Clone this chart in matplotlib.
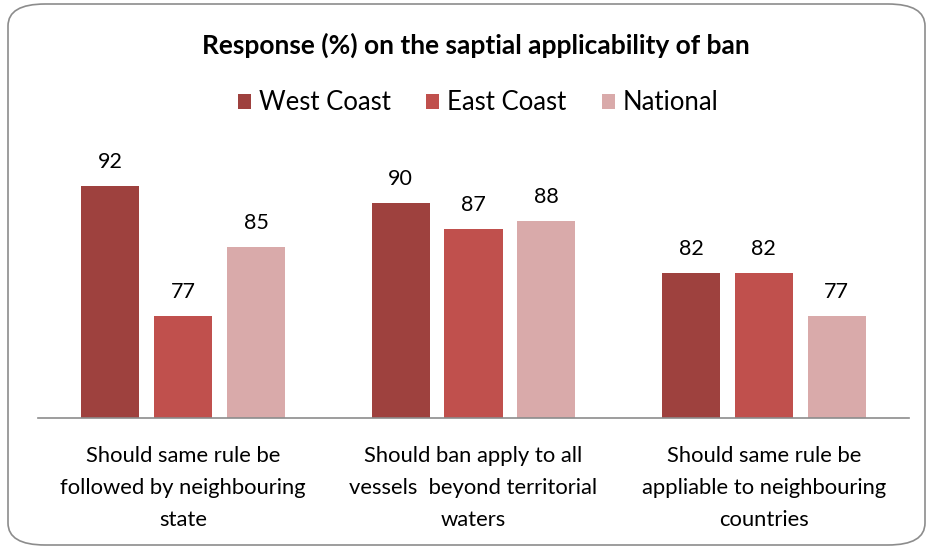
import numpy as np
import matplotlib.pyplot as plt
from matplotlib.patches import FancyBboxPatch

plt.rcParams['font.family'] = ['Lato', 'DejaVu Sans']

categories = [
    "Should same rule be\nfollowed by neighbouring\nstate",
    "Should ban apply to all\nvessels  beyond territorial\nwaters",
    "Should same rule be\nappliable to neighbouring\ncountries",
]
series_names = ["West Coast", "East Coast", "National"]
west = [92, 90, 82]
east = [77, 87, 82]
national = [85, 88, 77]
colors = ["#9E413E", "#C0504D", "#D9AAAA"]

fig = plt.figure(figsize=(9.27, 5.49), dpi=100)

# rounded chart border
border = FancyBboxPatch((8 / 927, 4 / 549), 917 / 927, 541 / 549,
                        boxstyle="round,pad=0,rounding_size=0.04",
                        transform=fig.transFigure, fill=False,
                        edgecolor="#8C8C8C", linewidth=1.2)
fig.patches.append(border)

ax = fig.add_axes([38 / 927, 1 - 418 / 549, 871 / 927, 278 / 549])
x = np.arange(len(categories))
width = 0.2
step = 0.251
for i, (name, vals) in enumerate(zip(series_names, [west, east, national])):
    bars = ax.bar(x + (i - 1) * step, vals, width, color=colors[i], label=name)
    for b, v in zip(bars, vals):
        ax.annotate(str(v), (b.get_x() + b.get_width() / 2, v),
                    xytext=(0, 10), textcoords="offset points",
                    ha="center", va="bottom", fontsize=15.5)

ax.set_xlim(-0.5, 2.5)
ax.set_ylim(65.2, 97.3)
ax.set_yticks([])
ax.set_xticks(x)
ax.set_xticklabels(categories, fontsize=15.8, linespacing=1.75)
ax.tick_params(axis="x", length=0, pad=20)
for s in ["top", "right", "left"]:
    ax.spines[s].set_visible(False)
ax.spines["bottom"].set_color("#8C8C8C")
ax.spines["bottom"].set_linewidth(1.2)

fig.text(0.513, 1 - 45 / 549, "Response (%) on the saptial applicability of ban",
         ha="center", va="center", fontsize=19, fontweight="bold")
fig.legend(loc="center", bbox_to_anchor=(0.516, 1 - 103 / 549), ncol=3,
           frameon=False, fontsize=18.5, handlelength=0.5, handleheight=0.5,
           handletextpad=0.3, columnspacing=1.4)

fig.savefig("out.png", dpi=100)
